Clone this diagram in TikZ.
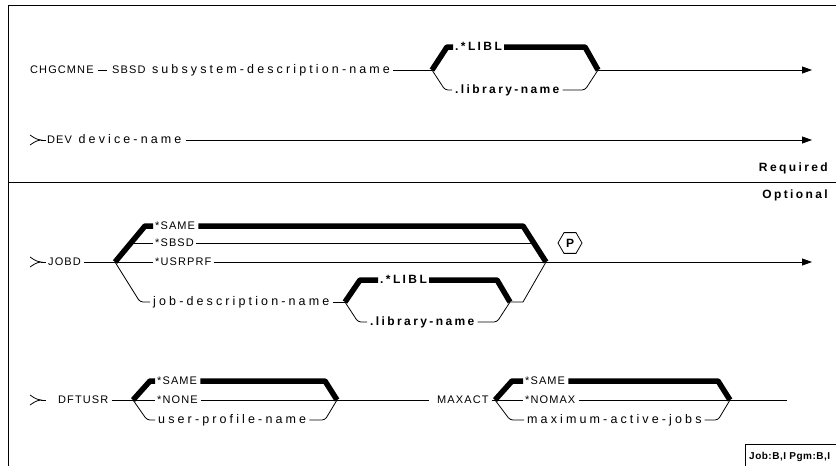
\documentclass[tikz,border=0pt]{standalone}
\usepackage{fontspec}
\setmainfont{Liberation Sans}
\newfontfamily\lowfont[LetterSpace=25]{Liberation Sans}
\newfontfamily\capfont[LetterSpace=10]{Liberation Sans}
\newfontfamily\kwfont[LetterSpace=20]{Liberation Sans}
\newfontfamily\envfont[LetterSpace=5]{Liberation Sans}
\usetikzlibrary{arrows.meta,shapes.geometric}

\newcommand{\cw}[1]{{\capfont\fontsize{11}{13}\selectfont #1}}
\newcommand{\bw}[1]{{\kwfont\bfseries\fontsize{12}{14}\selectfont #1}}

\tikzset{
  rail/.style={line width=0.8pt},
  dflt/.style={line width=5.5pt, line join=bevel},
  word/.style={anchor=west, inner sep=0pt, text height=7pt, text depth=1pt,
    font=\lowfont\fontsize{12.5}{14}\selectfont},
  endarrow/.style={-{Triangle[length=10pt,width=7pt]}},
  hexa/.style={draw, line width=0.8pt, regular polygon, regular polygon sides=6,
    minimum size=24pt, inner sep=0pt},
  entry/.pic={
    \draw[rail] (0,-5) .. controls (6,-1) .. (11,0) .. controls (6,1) .. (0,5);
    \draw[rail] (11,0) -- (16,0);
  }
}

\begin{document}
\begin{tikzpicture}[x=1pt,y=-1pt]
  \useasboundingbox (0,0) rectangle (836,466);
  % frame and the required/optional split
  \draw[rail] (8,466) -- (8,5) -- (836,5);
  \draw[rail] (8,182) -- (836,182);
  \node[word, anchor=east] (req) at (828,168) {\bw{Required}};
  \node[word, anchor=east] (opt) at (828,195) {\bw{Optional}};

  % CHGCMNE line
  \node[word] (cmd) at (30,70) {\cw{CHGCMNE}};
  \node[word] (sbsd) at (112,70) {\cw{SBSD} subsystem-description-name};
  \coordinate (b1) at (432,70);
  \coordinate (b1e) at (598,70);
  \node[word] (libl1) at (455,47) {\bw{.*LIBL}};
  \node[word] (lib1) at (455,90) {\bw{.library-name}};
  \draw[rail] ([xshift=4pt]cmd.east) -- ([xshift=-5pt]sbsd.west);
  \draw[rail] ([xshift=3pt]sbsd.east) -- (b1);
  \draw[dflt] (b1) -- (447,47) -- ([xshift=-2pt]libl1.west);
  \draw[dflt] ([xshift=2pt]libl1.east) -- (585,47) -- (b1e);
  \draw[rail, rounded corners=3pt] (b1) -- (445,90) -- ([xshift=-3pt]lib1.west);
  \draw[rail, rounded corners=3pt] ([xshift=3pt]lib1.east) -- (585,90) -- (b1e);
  \draw[rail, endarrow] (b1e) -- (812,70);

  % DEV line
  \pic at (30,140) {entry};
  \node[word] (dev) at (47,140) {\cw{DEV} device-name};
  \draw[rail, endarrow] ([xshift=4pt]dev.east) -- (812,140);

  % JOBD
  \pic at (30,262) {entry};
  \node[word] (jobd) at (48,262) {\cw{JOBD}};
  \coordinate (b2) at (115,262);
  \coordinate (b2e) at (546,262);
  \node[word] (same1) at (155,226) {\cw{*SAME}};
  \node[word] (sbsd1) at (155,243) {\cw{*SBSD}};
  \node[word] (usr1) at (155,262) {\cw{*USRPRF}};
  \node[word] (jdn) at (153,302) {job-description-name};
  \draw[rail] ([xshift=3pt]jobd.east) -- (b2);
  \draw[dflt] (b2) -- (145,226) -- ([xshift=-2pt]same1.west);
  \draw[dflt] ([xshift=3pt]same1.east) -- (523,226) -- (b2e);
  \draw[rail] (131,243) -- ([xshift=-2pt]sbsd1.west);
  \draw[rail] ([xshift=2pt]sbsd1.east) -- (534,243);
  \draw[rail] (b2) -- ([xshift=-2pt]usr1.west);
  \draw[rail] ([xshift=2pt]usr1.east) -- (b2e);
  \draw[rail, endarrow] (b2e) -- (812,262);
  \node[hexa] (parm) at (570,243) {\bw{P}};
  % nested library choice
  \coordinate (b3) at (345,302);
  \coordinate (b3e) at (510,302);
  \node[word] (libl2) at (380,280) {\bw{.*LIBL}};
  \node[word] (lib2) at (370,322) {\bw{.library-name}};
  \draw[rail, rounded corners=3pt] (b2) -- (140,302) -- ([xshift=-3pt]jdn.west);
  \draw[rail] ([xshift=3pt]jdn.east) -- (b3);
  \draw[dflt] (b3) -- (360,280) -- ([xshift=-2pt]libl2.west);
  \draw[dflt] ([xshift=2pt]libl2.east) -- (497,280) -- (b3e);
  \draw[rail, rounded corners=3pt] (b3) -- (358,322) -- ([xshift=-3pt]lib2.west);
  \draw[rail, rounded corners=3pt] ([xshift=3pt]lib2.east) -- (497,322) -- (b3e);
  \draw[rail] (b3e) -- (523,302) -- (b2e);

  % DFTUSR and MAXACT
  \pic at (30,400) {entry};
  \node[word] (dft) at (58,400) {\cw{DFTUSR}};
  \coordinate (b4) at (133,400);
  \coordinate (b4e) at (337,400);
  \node[word] (same2) at (157,381) {\cw{*SAME}};
  \node[word] (none) at (157,400) {\cw{*NONE}};
  \node[word] (upn) at (158,420) {user-profile-name};
  \draw[rail] ([xshift=3pt]dft.east) -- (b4);
  \draw[dflt] (b4) -- (150,381) -- ([xshift=-2pt]same2.west);
  \draw[dflt] ([xshift=3pt]same2.east) -- (325,381) -- (b4e);
  \draw[rail] (b4) -- ([xshift=-2pt]none.west);
  \draw[rail] ([xshift=3pt]none.east) -- (b4e);
  \draw[rail, rounded corners=3pt] (b4) -- (147,420) -- ([xshift=-3pt]upn.west);
  \draw[rail, rounded corners=3pt] ([xshift=3pt]upn.east) -- (325,420) -- (b4e);
  \node[word] (maxact) at (437,400) {\cw{MAXACT}};
  \coordinate (b5) at (495,400);
  \coordinate (b5e) at (730,400);
  \node[word] (same3) at (525,381) {\cw{*SAME}};
  \node[word] (nomax) at (525,400) {\cw{*NOMAX}};
  \node[word] (maj) at (527,420) {maximum-active-jobs};
  \draw[rail] (b4e) -- ([xshift=-8pt]maxact.west);
  \draw[rail] ([xshift=3pt]maxact.east) -- (b5);
  \draw[dflt] (b5) -- (512,381) -- ([xshift=-2pt]same3.west);
  \draw[dflt] ([xshift=3pt]same3.east) -- (718,381) -- (b5e);
  \draw[rail] (b5) -- ([xshift=-2pt]nomax.west);
  \draw[rail] ([xshift=3pt]nomax.east) -- (b5e);
  \draw[rail, rounded corners=3pt] (b5) -- (510,420) -- ([xshift=-3pt]maj.west);
  \draw[rail, rounded corners=3pt] ([xshift=3pt]maj.east) -- (718,420) -- (b5e);
  \coordinate (dftend) at (787,400);
  \draw[rail] (b5e) -- (dftend);

  % environment box
  \draw[rail] (836,444) -- (745,444) -- (745,466);
  \node[word, font=\envfont\bfseries\fontsize{10}{12}\selectfont] (env) at (749,456) {Job:B,I Pgm:B,I};
\end{tikzpicture}
\end{document}
